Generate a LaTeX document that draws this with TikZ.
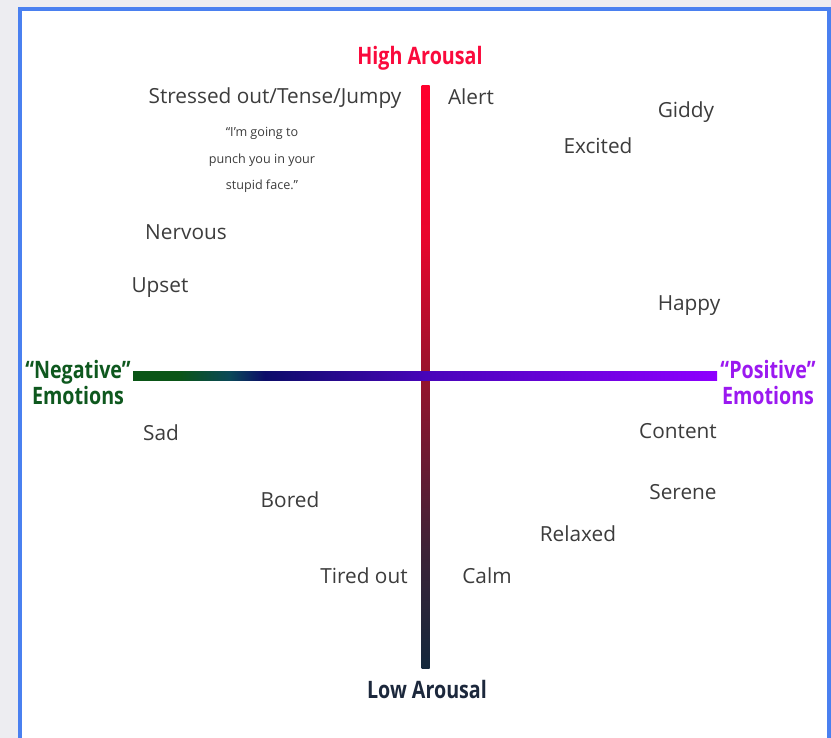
\documentclass[tikz,border=0pt]{standalone}
\usepackage{fontspec}
\setmainfont{Open Sans}
\newfontfamily\polefont{Open Sans}[FakeStretch=0.82]

\definecolor{pagegray}{RGB}{237,237,241}
\definecolor{panelblue}{RGB}{74,128,240}
\definecolor{labelgray}{RGB}{60,60,60}
\definecolor{highred}{RGB}{250,10,60}
\definecolor{lownavy}{RGB}{28,40,60}
\definecolor{neggreen}{RGB}{14,88,30}
\definecolor{pospurple}{RGB}{155,25,240}
% valence axis colours
\definecolor{valneg}{RGB}{10,85,22}
\definecolor{valteal}{RGB}{10,72,88}
\definecolor{valnavy}{RGB}{12,12,105}
\definecolor{valmid}{RGB}{72,4,185}
\definecolor{valpos}{RGB}{142,0,255}
% arousal axis colours
\definecolor{arlow}{RGB}{20,40,60}
\definecolor{armidlow}{RGB}{60,34,55}
\definecolor{armid}{RGB}{150,20,45}
\definecolor{arhightwo}{RGB}{232,6,45}
\definecolor{arhigh}{RGB}{255,0,45}

\pgfdeclarehorizontalshading{valence}{100bp}{color(0bp)=(valneg); color(25bp)=(valneg); color(28.9bp)=(valneg); color(33.3bp)=(valteal); color(36.3bp)=(valnavy); color(50bp)=(valmid); color(75bp)=(valpos); color(100bp)=(valpos)}
\pgfdeclareverticalshading{arousal}{100bp}{color(0bp)=(arlow); color(25bp)=(arlow); color(35bp)=(armidlow); color(50bp)=(armid); color(62bp)=(arhightwo); color(75bp)=(arhigh); color(100bp)=(arhigh)}

\begin{document}
\begin{tikzpicture}[x=1pt,y=1pt,
  feel/.style={font=\fontsize{20.8}{25}\selectfont, text=labelgray, inner sep=0pt,
    text height=14.8pt, text depth=0pt, anchor=center},
  pole/.style={font=\polefont\bfseries\fontsize{24}{26}\selectfont, inner sep=0pt, align=center},
  quote/.style={font=\fontsize{12.6}{26.5}\selectfont, text=labelgray, inner sep=0pt, align=center}]

\useasboundingbox (0,0) rectangle (831,-738);

% page and framed panel
\fill[pagegray] (0,0) rectangle (831,-738);
\fill[white] (20,-9) rectangle (829,-738);
\draw[panelblue, line width=4pt] (20,-745) -- (20,-9) -- (829,-9) -- (829,-745);

% arousal axis (vertical), then valence axis on top
\shade[shading=arousal] (421.5,-86) rectangle (429.5,-668);
\shade[shading=valence] (133,-372) rectangle (717,-381);

% axis labels
\node[pole, text=highred] (high) at (420,-58) {High Arousal};
\node[pole, text=lownavy] (low) at (427,-689) {Low Arousal};
\node[pole, text=neggreen] (neg) at (78,-382) {“Negative”\\Emotions};
\node[pole, text=pospurple] (pos) at (768,-382) {“Positive”\\Emotions};

% emotions
\node[feel] (stressed) at (275,-96) {Stressed out/Tense/Jumpy};
\node[quote] (punch) at (262,-160) {“I’m going to\\punch you in your\\stupid face.”};
\node[feel] (alert) at (471,-97) {Alert};
\node[feel] (giddy) at (686,-110) {Giddy};
\node[feel] (excited) at (598,-146) {Excited};
\node[feel] (nervous) at (186,-232) {Nervous};
\node[feel] (upset) at (160,-285) {Upset};
\node[feel] (happy) at (689,-303) {Happy};
\node[feel] (sad) at (161,-433) {Sad};
\node[feel] (content) at (678,-431) {Content};
\node[feel] (bored) at (290,-500) {Bored};
\node[feel] (serene) at (683,-492) {Serene};
\node[feel] (relaxed) at (578,-534) {Relaxed};
\node[feel] (tired) at (364,-576) {Tired out};
\node[feel] (calm) at (487,-576) {Calm};
\end{tikzpicture}
\end{document}
